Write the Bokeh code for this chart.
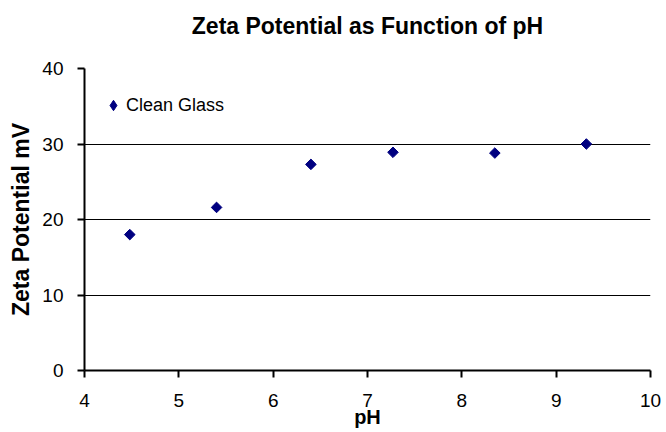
import numpy as np
from bokeh.plotting import figure
from bokeh.models import (Range1d, Legend, LegendItem, FixedTicker, ColumnDataSource,
                          LinearAxis)
from bokeh.embed import file_html
from bokeh.resources import INLINE

# ---- data ----
ph = [4.48, 5.40, 6.40, 7.27, 8.35, 9.32]
zeta = [18.0, 21.6, 27.3, 28.9, 28.8, 30.0]
series_name = "Clean Glass"
x_ticks = [4, 5, 6, 7, 8, 9, 10]
y_ticks = [0, 10, 20, 30, 40]
title_text = "Zeta Potential as Function of pH"
x_label = "pH"
y_label = "Zeta Potential mV"

FONT = "Liberation Sans"
NAVY = "#000080"

p = figure(
    width=666, height=432,
    min_border_left=84, min_border_right=16,
    min_border_top=68, min_border_bottom=62,
    x_range=Range1d(4, 10), y_range=Range1d(0, 40),
    output_backend="svg", toolbar_location=None,
    title=title_text,
)
p.outline_line_color = None
p.background_fill_color = "white"
p.border_fill_color = "white"

p.title.text_font = FONT
p.title.text_font_size = "23px"
p.title.text_font_style = "bold"
p.title.text_color = "black"
p.title.align = "center"
p.title.vertical_align = "top"
p.title.standoff = 0

xax = p.below[0]
yax = p.left[0]

# blank spacer between the title and the plot area (white on white, no labels)
spacer = LinearAxis(ticker=FixedTicker(ticks=[9.95]), major_tick_out=28, major_tick_in=0,
                    axis_line_color=None, major_tick_line_color="white",
                    minor_tick_line_color=None, minor_tick_out=0, minor_tick_in=0,
                    major_label_overrides={9.95: ""}, major_label_text_font_size="0px",
                    major_label_text_color="white",
                    major_label_standoff=0, axis_label_standoff=0)
p.add_layout(spacer, "above")

src = ColumnDataSource(dict(ph=ph, zeta=zeta))
# legend key renderer (diamond), drawn underneath and covered by the visible markers
key = p.scatter("ph", "zeta", source=src, marker="diamond", size=6,
                fill_color=NAVY, line_color=NAVY)
r = p.scatter("ph", "zeta", source=src, marker="square", angle=np.pi / 4,
              size=7.5, fill_color=NAVY, line_color=NAVY)

# axes
for ax in (xax, yax):
    ax.axis_line_color = "black"
    ax.axis_line_width = 2
    ax.major_tick_line_color = "black"
    ax.major_tick_line_width = 2
    ax.major_tick_out = 7
    ax.major_tick_in = 0
    ax.minor_tick_line_color = None
    ax.major_label_text_font = FONT
    ax.major_label_text_font_size = "19px"
    ax.major_label_text_color = "black"
    ax.axis_label_text_font = FONT
    ax.axis_label_text_font_style = "bold"
    ax.axis_label_text_color = "black"

xax.ticker = FixedTicker(ticks=x_ticks)
yax.ticker = FixedTicker(ticks=y_ticks)
xax.axis_label = x_label
yax.axis_label = y_label
xax.axis_label_text_font_size = "20px"
yax.axis_label_text_font_size = "23px"
xax.major_label_standoff = 16
xax.axis_label_standoff = -4
yax.major_label_standoff = 14
yax.axis_label_standoff = 5

p.xgrid.grid_line_color = None
p.ygrid.grid_line_color = "black"
p.ygrid.grid_line_width = 1

legend = Legend(
    items=[LegendItem(label=series_name, renderers=[key])],
    location=(16, 252),
    border_line_color=None, background_fill_alpha=0,
    padding=0, margin=0, spacing=0,
    glyph_width=26, glyph_height=26, label_standoff=0,
    label_text_font=FONT, label_text_font_size="18px", label_text_color="black",
)
p.add_layout(legend)

open("out.html", "w").write(file_html(p, INLINE))
